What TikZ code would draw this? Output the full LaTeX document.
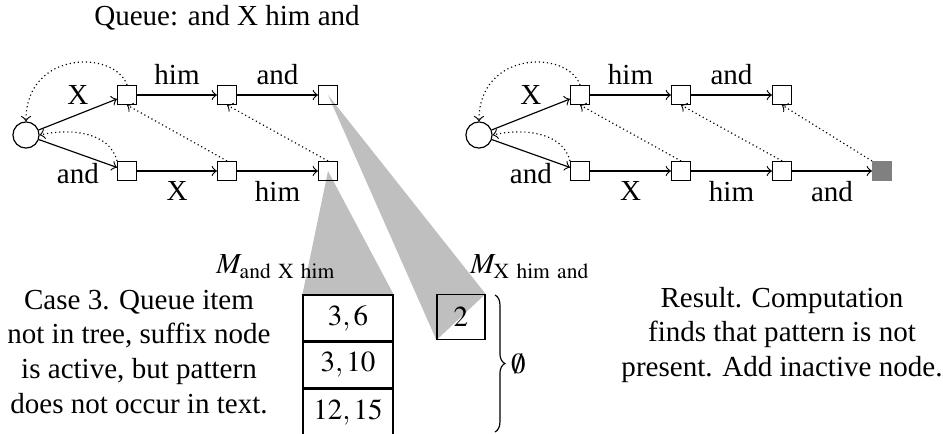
\documentclass[tikz,border=0pt]{standalone}
\usepackage{mathptmx}
\usepackage{fontspec}
\setmainfont{Liberation Serif}
\usetikzlibrary{positioning,decorations.pathreplacing,backgrounds}

\begin{document}
\begin{tikzpicture}[x=0.0121cm,y=-0.0121cm,
  st/.style={draw,inner sep=0pt,minimum size=6.5pt},
  root/.style={draw,circle,inner sep=0pt,minimum size=9pt},
  sfx/.style={->,densely dotted},
  cell/.style={draw,minimum width=31pt,minimum height=15.8pt,inner sep=0pt},
  wedge/.style={fill=black!25}]
\path[use as bounding box] (0,0) rectangle (943,434);

\node (queue) at (227,18) {Queue: and X him and};

% (a) the tree before the queue item is handled
\node[root] (r) at (26,135) {};
\node[st] (a1) at (127,95) {};
\node[st] (a2) at (227,95) {};
\node[st] (a3) at (328,95) {};
\node[st] (b1) at (127,171) {};
\node[st] (b2) at (227,171) {};
\node[st] (b3) at (328,171) {};
\draw[->] (r) -- node[above] {X} (a1);
\draw[->] (a1) -- node[above] {him} (a2);
\draw[->] (a2) -- node[above] {and} (a3);
\draw[->] (r) -- node[below] {and} (b1);
\draw[->] (b1) -- node[below] {X} (b2);
\draw[->] (b2) -- node[below] {him} (b3);
% suffix links
\draw[sfx] (a1.north) .. controls (115,50) and (26,50) .. (r.north);
\draw[sfx] (b1.north west) .. controls (110,132) and (70,128) .. (r.east);
\draw[sfx] (b2.north) -- (a1.south);
\draw[sfx] (b3.north) -- (a2.south);

% (b) after adding the inactive node
\node[root] (rr) at (479,135) {};
\node[st] (ra1) at (580,95) {};
\node[st] (ra2) at (681,95) {};
\node[st] (ra3) at (782,95) {};
\node[st] (rb1) at (580,171) {};
\node[st] (rb2) at (681,171) {};
\node[st] (rb3) at (782,171) {};
\node[st,fill=black!50,draw=black!50] (rb4) at (882,171) {};
\draw[->] (rr) -- node[above] {X} (ra1);
\draw[->] (ra1) -- node[above] {him} (ra2);
\draw[->] (ra2) -- node[above] {and} (ra3);
\draw[->] (rr) -- node[below] {and} (rb1);
\draw[->] (rb1) -- node[below] {X} (rb2);
\draw[->] (rb2) -- node[below] {him} (rb3);
\draw[->] (rb3) -- node[below] {and} (rb4);
\draw[sfx] (ra1.north) .. controls (568,50) and (479,50) .. (rr.north);
\draw[sfx] (rb1.north west) .. controls (563,132) and (523,128) .. (rr.east);
\draw[sfx] (rb2.north) -- (ra1.south);
\draw[sfx] (rb3.north) -- (ra2.south);
\draw[sfx] (rb4.north west) -- (ra3.south);

% occurrence lists
\node[cell] (t1) at (348,318) {$3,6$};
\node[cell,below=0pt of t1] (t2) {$3,10$};
\node[cell,below=0pt of t2] (t3) {$12,15$};
\node[draw,minimum width=16.5pt,minimum height=15.5pt,inner sep=0pt] (two) at (461,317) {$2$};
\node (lab1) at (276,267) {$M_{\mathrm{and\ X\ him}}$};
\node (lab2) at (530,267) {$M_{\mathrm{X\ him\ and}}$};
\begin{scope}[on background layer]
  \fill[wedge] (b3.center) -- (t1.north west) -- (t1.north east) -- cycle;
  \fill[wedge] (a3.center) -- (two.south west) -- (two.north east) -- cycle;
\end{scope}
\draw[decorate,decoration={brace,amplitude=3.4pt}] (495,295) -- (495,432)
  node[midway,right=2pt] (empty) {$\emptyset$};

\node[align=center] (case) at (139,352) {Case 3. Queue item\\not in tree, suffix node\\is active, but pattern\\does not occur in text.};
\node[align=center] (result) at (782,335) {Result. Computation\\finds that pattern is not\\present. Add inactive node.};
\end{tikzpicture}
\end{document}
